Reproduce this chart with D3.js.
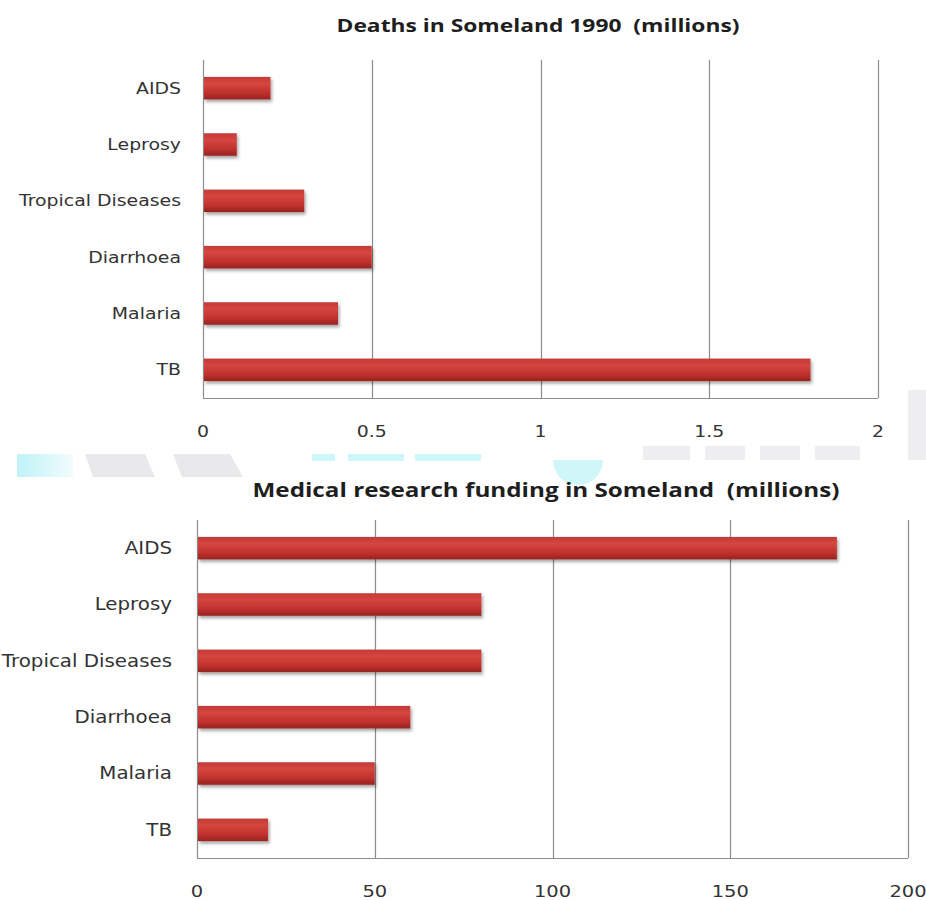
<!DOCTYPE html>
<html>
<head>
<meta charset="utf-8">
<script src="https://cdn.jsdelivr.net/npm/d3@7"></script>
<style>
  html, body { margin: 0; padding: 0; background: #fff; }
  svg { display: block; }
</style>
</head>
<body>
<svg id="chart" width="926" height="900"></svg>
<script>
// ---- data ----
const categories = ["AIDS", "Leprosy", "Tropical Diseases", "Diarrhoea", "Malaria", "TB"];
const deathsValues = [0.2, 0.1, 0.3, 0.5, 0.4, 1.8];
const fundingValues = [180, 80, 80, 60, 50, 20];
const deathsTicks = [0, 0.5, 1, 1.5, 2];
const fundingTicks = [0, 50, 100, 150, 200];
const deathsTitle = "Deaths in Someland 1990  (millions)";
const fundingTitle = "Medical research funding in Someland  (millions)";

const svg = d3.select("#chart");
const defs = svg.append("defs");

const grad = defs.append("linearGradient").attr("id", "barGrad")
  .attr("x1", 0).attr("y1", 0).attr("x2", 0).attr("y2", 1);
grad.append("stop").attr("offset", "0%").attr("stop-color", "#c43a37");
grad.append("stop").attr("offset", "30%").attr("stop-color", "#d4463f");
grad.append("stop").attr("offset", "70%").attr("stop-color", "#c1312e");
grad.append("stop").attr("offset", "100%").attr("stop-color", "#962321");

const shadow = defs.append("filter").attr("id", "shadow")
  .attr("x", "-5%").attr("y", "-30%").attr("width", "115%").attr("height", "180%");
shadow.append("feDropShadow").attr("dx", 1.5).attr("dy", 2.5)
  .attr("stdDeviation", 1.8).attr("flood-color", "#000").attr("flood-opacity", 0.35);

const wmGrad = defs.append("linearGradient").attr("id", "wmGrad")
  .attr("x1", 0).attr("y1", 0).attr("x2", 1).attr("y2", 0);
wmGrad.append("stop").attr("offset", "0%").attr("stop-color", "#bff3f7");
wmGrad.append("stop").attr("offset", "100%").attr("stop-color", "#f2fbfc");

// ---- faint watermark band ----
const wm = svg.append("g").attr("class", "watermark");
wm.append("rect").attr("x", 17).attr("y", 454).attr("width", 56).attr("height", 23).attr("fill", "url(#wmGrad)");
wm.append("polygon").attr("points", "85,454 145,454 155,477 93,477").attr("fill", "#e9e9ec");
wm.append("polygon").attr("points", "173,454 230,454 243,477 182,477").attr("fill", "#e9e9ec");
[[312, 335], [348, 404], [415, 470], [463, 481]].forEach(([a, b]) =>
  wm.append("rect").attr("x", a).attr("y", 454).attr("width", b - a).attr("height", 7).attr("fill", "#cff6f9"));
wm.append("path").attr("d", "M553,460 A25,25 0 0 0 603,460 Z").attr("fill", "#cff6f9");
[[643, 690], [705, 745], [760, 800], [815, 860]].forEach(([a, b]) =>
  wm.append("rect").attr("x", a).attr("y", 446).attr("width", b - a).attr("height", 14).attr("fill", "#eeeef0"));
wm.append("rect").attr("x", 908).attr("y", 390).attr("width", 18).attr("height", 70).attr("fill", "#eeeef0");

const SX = 1.18; // horizontal stretch of the original image text

function drawChart(cfg) {
  const g = svg.append("g");
  const x = d3.scaleLinear().domain([cfg.ticks[0], cfg.ticks[cfg.ticks.length - 1]])
    .range([cfg.left, cfg.right]);
  const y = d3.scaleBand().domain(categories).range([cfg.top, cfg.bottom])
    .paddingInner(0.6).paddingOuter(0.3);

  // gridlines
  g.append("g").selectAll("line").data(cfg.ticks).join("line")
    .attr("x1", d => Math.round(x(d)) + 0.5).attr("x2", d => Math.round(x(d)) + 0.5)
    .attr("y1", cfg.top).attr("y2", cfg.bottom)
    .attr("stroke", "#8c8c8c").attr("stroke-width", 1.2);
  // bottom border
  g.append("line")
    .attr("x1", x.range()[0]).attr("x2", x.range()[1])
    .attr("y1", cfg.bottom + 0.5).attr("y2", cfg.bottom + 0.5)
    .attr("stroke", "#8c8c8c").attr("stroke-width", 1.2);

  // bars
  g.append("g").selectAll("rect").data(cfg.values).join("rect")
    .attr("x", x(0) + 1)
    .attr("y", (d, i) => y(categories[i]))
    .attr("width", d => x(d) - x(0) - 1)
    .attr("height", y.bandwidth())
    .attr("fill", "url(#barGrad)")
    .attr("filter", "url(#shadow)");

  // category labels
  g.append("g").selectAll("text").data(categories).join("text")
    .attr("transform", d => `translate(${cfg.labelX},${y(d) + y.bandwidth() / 2}) scale(${SX},1)`)
    .attr("text-anchor", "end").attr("dominant-baseline", "central")
    .attr("font-family", "DejaVu Sans, Verdana, sans-serif")
    .attr("font-size", cfg.labelSize).attr("fill", "#333333")
    .text(d => d);

  // tick labels
  g.append("g").selectAll("text").data(cfg.ticks).join("text")
    .attr("transform", d => `translate(${x(d)},${cfg.tickY}) scale(${SX},1)`)
    .attr("text-anchor", "middle").attr("dominant-baseline", "central")
    .attr("font-family", "DejaVu Sans, Verdana, sans-serif")
    .attr("font-size", cfg.tickSize).attr("fill", "#333333")
    .text(d => d);

  // title
  g.append("text")
    .attr("x", cfg.titleX).attr("y", cfg.titleY)
    .attr("text-anchor", "middle").attr("dominant-baseline", "central")
    .attr("font-family", "Open Sans, sans-serif").attr("font-weight", "bold")
    .attr("font-size", cfg.titleSize).attr("fill", "#1e1e1e")
    .attr("textLength", cfg.titleWidth).attr("lengthAdjust", "spacingAndGlyphs")
    .style("white-space", "pre")
    .text(cfg.title);
}

drawChart({
  values: deathsValues, ticks: deathsTicks, title: deathsTitle,
  left: 203, right: 878, top: 60, bottom: 398,
  labelX: 181, tickY: 432, labelSize: 16, tickSize: 16,
  titleX: 538, titleY: 25, titleSize: 17, titleWidth: 403
});

drawChart({
  values: fundingValues, ticks: fundingTicks, title: fundingTitle,
  left: 197, right: 908, top: 520, bottom: 858,
  labelX: 172, tickY: 891, labelSize: 16.8, tickSize: 16.5,
  titleX: 546, titleY: 490, titleSize: 19, titleWidth: 587
});
</script>
</body>
</html>
